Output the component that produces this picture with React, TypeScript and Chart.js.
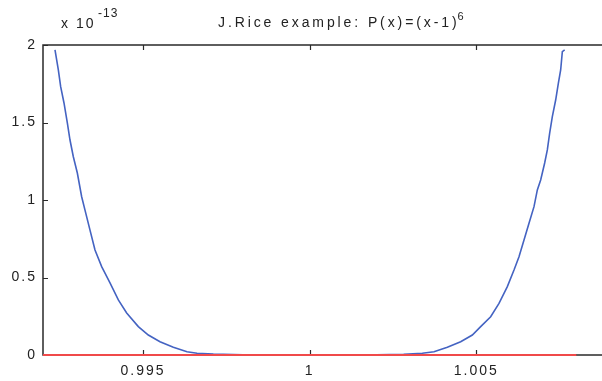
import React, { useEffect, useRef } from "react";
import { Chart, registerables } from "chart.js";

Chart.register(...registerables);

const curveX = [
  0.99236, 0.99246, 0.99253, 0.99263, 0.99273, 0.99281, 0.99291, 0.99303, 0.99316, 0.99326,
  0.99341, 0.99356, 0.99376, 0.99401, 0.99426, 0.99451, 0.99486, 0.99516, 0.99551, 0.99591,
  0.99632, 0.99662, 0.99711, 0.998, 0.999, 1.0, 1.001, 1.002, 1.00282, 1.00338,
  1.00373, 1.00413, 1.00453, 1.00488, 1.00513, 1.00543, 1.00568, 1.00593, 1.00613, 1.00628,
  1.00643, 1.00658, 1.00673, 1.00683, 1.00693, 1.00705, 1.00713, 1.0072, 1.00728, 1.00738,
  1.00746, 1.00753, 1.00758, 1.00765,
];
const curveY = [
  1.968, 1.839, 1.731, 1.626, 1.497, 1.387, 1.279, 1.174, 1.021, 0.935,
  0.806, 0.677, 0.57, 0.465, 0.355, 0.271, 0.183, 0.129, 0.086, 0.05,
  0.021, 0.011, 0.006, 0.002, 0.0, 0.0, 0.0, 0.002, 0.004, 0.011,
  0.021, 0.05, 0.086, 0.129, 0.183, 0.247, 0.333, 0.441, 0.548, 0.634,
  0.742, 0.85, 0.957, 1.065, 1.129, 1.239, 1.323, 1.432, 1.538, 1.645,
  1.753, 1.839, 1.957, 1.968,
];
const zeroLineX = [0.992, 1.008];
const zeroLineY = [0, 0];
const xTicks = [0.995, 1, 1.005];
const xTickLabels = ["0.995", "1", "1.005"];
const yTicks = [0, 0.5, 1, 1.5, 2];
const yTickLabels = ["0", "0.5", "1", "1.5", "2"];
const titleText = "J.Rice example: P(x)=(x-1)";
const titleSup = "6";
const expBase = "x 10";
const expSup = "-13";

const FONT = "'Liberation Sans', Arial, sans-serif";
const INK = "#222222";

const spacingPlugin = {
  id: "spacing",
  beforeDraw(chart: any) {
    (chart.ctx as any).letterSpacing = "2px";
  },
};

const decorPlugin = {
  id: "decor",
  afterDraw(chart: any) {
    const { ctx, chartArea } = chart;
    const xs = chart.scales.x;
    const ys = chart.scales.y;
    ctx.save();
    ctx.strokeStyle = "#2a2a2a";
    ctx.lineWidth = 1.5;
    ctx.strokeRect(chartArea.left, chartArea.top, chartArea.right - chartArea.left, chartArea.bottom - chartArea.top);
    const tl = 5;
    ctx.beginPath();
    xTicks.forEach((v) => {
      const px = Math.round(xs.getPixelForValue(v)) + 0.5;
      ctx.moveTo(px, chartArea.bottom);
      ctx.lineTo(px, chartArea.bottom - tl);
      ctx.moveTo(px, chartArea.top);
      ctx.lineTo(px, chartArea.top + tl);
    });
    yTicks.forEach((v) => {
      const py = Math.round(ys.getPixelForValue(v)) + 0.5;
      ctx.moveTo(chartArea.left, py);
      ctx.lineTo(chartArea.left + tl, py);
    });
    ctx.lineWidth = 1.2;
    ctx.stroke();
    const meta = chart.getDatasetMeta(0);
    if (meta && meta.dataset) meta.dataset.draw(ctx, chartArea);
    ctx.fillStyle = INK;
    ctx.textBaseline = "alphabetic";
    ctx.textAlign = "left";
    ctx.font = `14px ${FONT}`;
    (ctx as any).letterSpacing = "2.9px";
    ctx.fillText(titleText, 218, 27);
    const w = ctx.measureText(titleText).width;
    ctx.font = `11px ${FONT}`;
    (ctx as any).letterSpacing = "0px";
    ctx.fillText(titleSup, 216 + w, 20);
    ctx.font = `14px ${FONT}`;
    (ctx as any).letterSpacing = "2px";
    ctx.fillText(expBase, 61, 28);
    ctx.font = `12px ${FONT}`;
    (ctx as any).letterSpacing = "1px";
    ctx.fillText(expSup, 98, 17);
    ctx.restore();
  },
};

export default function App() {
  const ref = useRef<HTMLCanvasElement | null>(null);
  useEffect(() => {
    document.body.style.margin = "0";
    const canvas = ref.current;
    if (!canvas) return;
    const chart = new Chart(canvas, {
      type: "scatter",
      data: {
        datasets: [
          {
            data: zeroLineX.map((x, i) => ({ x, y: zeroLineY[i] })),
            showLine: true,
            borderColor: "#f04a4a",
            borderWidth: 2,
            pointRadius: 0,
            order: 0,
          },
          {
            data: curveX.map((x, i) => ({ x, y: curveY[i] })),
            showLine: true,
            borderColor: "#4463c2",
            borderWidth: 1.6,
            pointRadius: 0,
            order: 1,
          },
        ],
      },
      options: {
        responsive: false,
        animation: false,
        events: [],
        layout: { padding: { left: 0, top: 45, right: 17, bottom: 0 } },
        plugins: { legend: { display: false }, tooltip: { enabled: false }, title: { display: false } },
        scales: {
          x: {
            type: "linear",
            min: 0.992,
            max: 1.01,
            grid: { display: false, drawTicks: false, tickLength: 0 },
            border: { display: false },
            afterFit: (s: any) => { s.height = 26; },
            afterBuildTicks: (s: any) => { s.ticks = xTicks.map((v) => ({ value: v })); },
            ticks: {
              padding: 8,
              color: INK,
              font: { family: FONT, size: 14 },
              maxRotation: 0,
              autoSkip: false,
              callback: (v: any) => xTickLabels[xTicks.indexOf(Number(v))] ?? "",
            },
          },
          y: {
            type: "linear",
            min: 0,
            max: 2,
            grid: { display: false, drawTicks: false, tickLength: 0 },
            border: { display: false },
            afterFit: (s: any) => { s.width = 43; },
            afterBuildTicks: (s: any) => { s.ticks = yTicks.map((v) => ({ value: v })); },
            ticks: {
              padding: 6,
              color: INK,
              font: { family: FONT, size: 14 },
              callback: (v: any) => yTickLabels[yTicks.indexOf(Number(v))] ?? "",
            },
          },
        },
      },
      plugins: [spacingPlugin, decorPlugin],
    });
    return () => chart.destroy();
  }, []);
  return (
    <div style={{ width: 602, height: 381, overflow: "hidden", background: "#fff" }}>
      <canvas ref={ref} width={660} height={381} style={{ display: "block", width: 660, height: 381 }} />
    </div>
  );
}
